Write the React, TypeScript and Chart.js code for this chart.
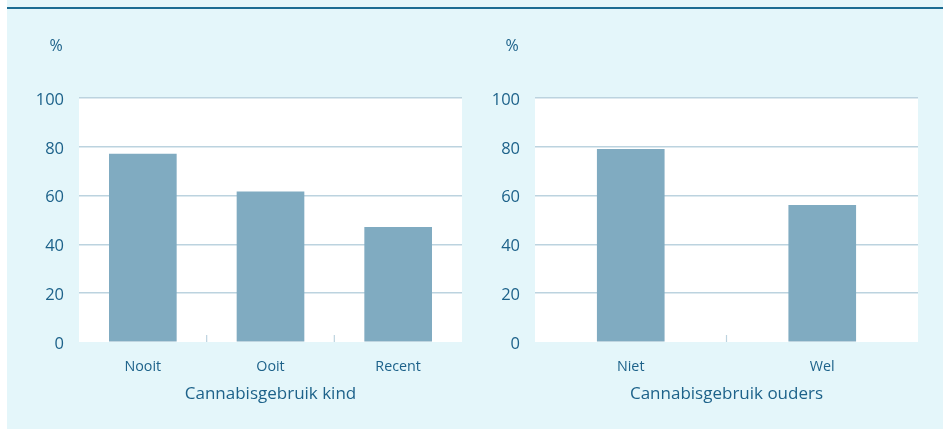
import React, { useEffect, useRef } from "react";
import { Chart, registerables } from "chart.js";

Chart.register(...registerables);

const kindCategories = ["Nooit", "Ooit", "Recent"];
const kindValues = [77, 61.5, 47];
const kindTitle = "Cannabisgebruik kind";

const oudersCategories = ["Niet", "Wel"];
const oudersValues = [79, 56];
const oudersTitle = "Cannabisgebruik ouders";

const yTicks = [0, 20, 40, 60, 80, 100];
const yUnit = "%";

const TEXT = "#1d628a";
const BAR = "#80abc1";
const GRID = "#bcd3df";
const FONT = "'Open Sans', sans-serif";

function makeConfig(labels: string[], values: number[], title: string, yWidth: number, padRight: number) {
  const bgPlugin = {
    id: "plotBg",
    beforeDraw(chart: any) {
      const { ctx, chartArea: a } = chart;
      ctx.save();
      ctx.fillStyle = "#ffffff";
      ctx.fillRect(a.left, a.top, a.right - a.left, a.bottom - a.top);
      ctx.restore();
    },
    afterDatasetsDraw(chart: any) {
      const { ctx, chartArea: a } = chart;
      const xs = chart.scales.x;
      ctx.save();
      ctx.strokeStyle = GRID;
      ctx.lineWidth = 1.2;
      for (let i = 0; i < labels.length - 1; i++) {
        const x = (xs.getPixelForValue(i) + xs.getPixelForValue(i + 1)) / 2;
        ctx.beginPath();
        ctx.moveTo(x, a.bottom - 7);
        ctx.lineTo(x, a.bottom);
        ctx.stroke();
      }
      ctx.restore();
    },
    afterDraw(chart: any) {
      const { ctx, chartArea: a } = chart;
      ctx.save();
      ctx.fillStyle = TEXT;
      ctx.font = `16px ${FONT}`;
      ctx.textAlign = "center";
      ctx.textBaseline = "middle";
      ctx.fillText(yUnit, a.left - 23, 46);
      ctx.restore();
    },
  };
  return {
    type: "bar" as const,
    data: {
      labels,
      datasets: [
        {
          data: values,
          backgroundColor: BAR,
          borderWidth: 0,
          barThickness: 67,
        },
      ],
    },
    plugins: [bgPlugin],
    options: {
      animation: false as const,
      responsive: false,
      layout: { padding: { top: 98, right: padRight, left: 0, bottom: 0 } },
      plugins: { legend: { display: false }, tooltip: { enabled: false }, title: { display: false } },
      scales: {
        x: {
          grid: { display: false },
          border: { display: false },
          ticks: { color: TEXT, font: { family: FONT, size: 14.3 }, padding: 8 },
          title: { display: true, text: title, color: TEXT, font: { family: FONT, size: 17 }, padding: { top: 0, bottom: 25 } },
          afterFit(scale: any) {
            scale.height = 87;
          },
        },
        y: {
          min: 0,
          max: 100,
          afterBuildTicks(scale: any) {
            scale.ticks = yTicks.map((v) => ({ value: v }));
          },
          grid: {
            color: (c: any) => (c.tick && c.tick.value === 0 ? "rgba(0,0,0,0)" : GRID),
            lineWidth: 1.5,
            drawTicks: false,
          },
          border: { display: false },
          ticks: { color: TEXT, font: { family: FONT, size: 16.5 }, padding: 15, labelOffset: 2 },
          afterFit(scale: any) {
            scale.width = yWidth;
          },
        },
      },
    },
  };
}

function BarChart(props: { labels: string[]; values: number[]; title: string; width: number; yWidth: number; padRight: number; left: number }) {
  const ref = useRef<HTMLCanvasElement | null>(null);
  useEffect(() => {
    if (!ref.current) return;
    const chart = new Chart(ref.current, makeConfig(props.labels, props.values, props.title, props.yWidth, props.padRight) as any);
    return () => chart.destroy();
  }, []);
  return (
    <canvas
      ref={ref}
      width={props.width}
      height={429}
      style={{ position: "absolute", left: props.left, top: 0, width: props.width, height: 429 }}
    />
  );
}

export default function App() {
  return (
    <div style={{ position: "fixed", left: 0, top: 0, width: 943, height: 429, background: "#ffffff", overflow: "hidden" }}>
      <div style={{ position: "absolute", left: 7, top: 0, width: 936, height: 429, background: "#e4f6fa" }} />
      <div style={{ position: "absolute", left: 7, top: 7, width: 936, height: 2, background: "#1b6c92" }} />
      <BarChart labels={kindCategories} values={kindValues} title={kindTitle} width={471} left={0} yWidth={79} padRight={9} />
      <BarChart labels={oudersCategories} values={oudersValues} title={oudersTitle} width={472} left={471} yWidth={64} padRight={25} />
    </div>
  );
}
